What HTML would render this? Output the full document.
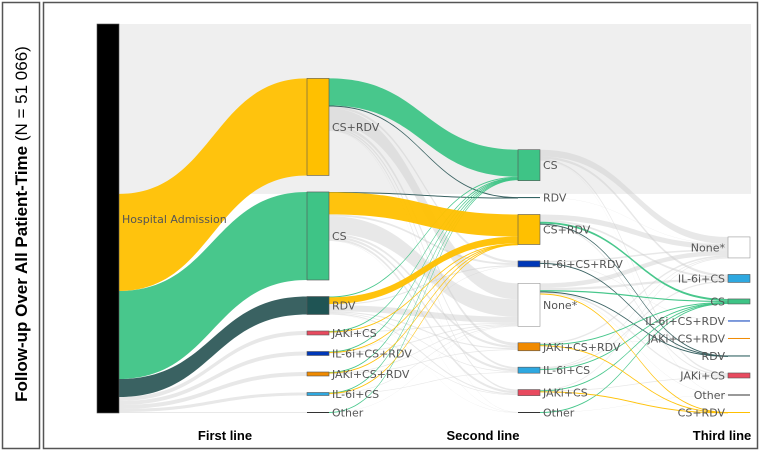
<!DOCTYPE html>
<html><head><meta charset="utf-8"><style>
html,body{margin:0;padding:0;background:#fff;}
svg{display:block;font-family:"DejaVu Sans","Liberation Sans",sans-serif;}
</style></head><body>
<svg id="chart" width="760" height="451" viewBox="0 0 760 451">
<rect x="2.5" y="2.5" width="37" height="446" fill="none" stroke="#555" stroke-width="1.5"/>
<rect x="43.5" y="2.5" width="714" height="446" fill="none" stroke="#555" stroke-width="1.5"/>
<text transform="translate(27,224) rotate(-90)" text-anchor="middle" font-family="Liberation Sans, sans-serif" font-size="17" fill="#000"><tspan font-weight="bold">Follow-up Over All Patient-Time</tspan> (N = 51 066)</text>
<g id="bg"></g>
<g id="links"></g>
<g id="nodes"></g>
<g id="labels"></g>
<text x="225" y="440" text-anchor="middle" font-family="Liberation Sans, sans-serif" font-weight="bold" font-size="13">First line</text>
<text x="483" y="440" text-anchor="middle" font-family="Liberation Sans, sans-serif" font-weight="bold" font-size="13">Second line</text>
<text x="722" y="440" text-anchor="middle" font-family="Liberation Sans, sans-serif" font-weight="bold" font-size="13">Third line</text>
</svg>
<script>
const TOTAL = 51066;
const col1Names = ["CS+RDV","CS","RDV","JAKi+CS","IL-6i+CS+RDV","JAKi+CS+RDV","IL-6i+CS","Other"];
const col1Values = [12740,11560,2360,525,525,525,395,130];
const col2Names = ["CS","RDV","CS+RDV","IL-6i+CS+RDV","None*","JAKi+CS+RDV","IL-6i+CS","JAKi+CS","Other"];
const col2Values = [4070,130,3940,790,5650,1050,790,790,130];
const col3Names = ["None*","IL-6i+CS","CS","IL-6i+CS+RDV","JAKi+CS+RDV","RDV","JAKi+CS","Other","CS+RDV"];
const col3Values = [2760,1050,660,130,130,80,660,130,80];
const links01 = [["CS+RDV",12740,"y"],["CS",11560,"g"],["RDV",2360,"d"],["JAKi+CS",525,"x"],["IL-6i+CS+RDV",525,"x"],["JAKi+CS+RDV",525,"x"],["IL-6i+CS",395,"x"],["Other",130,"x"]];
const links12 = [
["CS+RDV","CS",3550,"g"],["CS+RDV","RDV",60,"d"],["CS+RDV","IL-6i+CS+RDV",300,"x"],["CS+RDV","None*",2100,"x"],["CS+RDV","JAKi+CS+RDV",400,"x"],["CS+RDV","IL-6i+CS",250,"x"],["CS+RDV","JAKi+CS",200,"x"],["CS+RDV","Other",40,"x"],
["CS","RDV",40,"d"],["CS","CS+RDV",2900,"y"],["CS","IL-6i+CS+RDV",250,"x"],["CS","None*",2300,"x"],["CS","JAKi+CS+RDV",300,"x"],["CS","IL-6i+CS",300,"x"],["CS","JAKi+CS",300,"x"],["CS","Other",40,"x"],
["RDV","CS",100,"g"],["RDV","CS+RDV",900,"y"],["RDV","IL-6i+CS+RDV",150,"x"],["RDV","None*",800,"x"],["RDV","JAKi+CS+RDV",150,"x"],["RDV","IL-6i+CS",100,"x"],["RDV","JAKi+CS",150,"x"],["RDV","Other",30,"x"],
["JAKi+CS","CS",60,"g"],["JAKi+CS","CS+RDV",40,"y"],["JAKi+CS","None*",120,"x"],["JAKi+CS","JAKi+CS",80,"x"],
["IL-6i+CS+RDV","CS",60,"g"],["IL-6i+CS+RDV","CS+RDV",30,"y"],["IL-6i+CS+RDV","None*",120,"x"],["IL-6i+CS+RDV","IL-6i+CS+RDV",60,"x"],
["JAKi+CS+RDV","CS",60,"g"],["JAKi+CS+RDV","CS+RDV",40,"y"],["JAKi+CS+RDV","None*",100,"x"],["JAKi+CS+RDV","JAKi+CS+RDV",100,"x"],
["IL-6i+CS","CS",50,"g"],["IL-6i+CS","CS+RDV",30,"y"],["IL-6i+CS","None*",80,"x"],["IL-6i+CS","IL-6i+CS",80,"x"],
["Other","CS",30,"g"],["Other","None*",30,"x"]];
const links23 = [
["CS","None*",900,"x"],["CS","IL-6i+CS",300,"x"],["CS","JAKi+CS",200,"x"],["CS","Other",40,"x"],
["RDV","None*",30,"x"],
["CS+RDV","None*",700,"x"],["CS+RDV","IL-6i+CS",250,"x"],["CS+RDV","CS",250,"g"],["CS+RDV","RDV",30,"d"],["CS+RDV","JAKi+CS",150,"x"],
["IL-6i+CS+RDV","None*",200,"x"],["IL-6i+CS+RDV","RDV",20,"d"],["IL-6i+CS+RDV","IL-6i+CS+RDV",60,"x"],
["None*","None*",600,"x"],["None*","IL-6i+CS",300,"x"],["None*","CS",150,"g"],["None*","RDV",30,"d"],["None*","JAKi+CS",200,"x"],["None*","CS+RDV",20,"y"],["None*","Other",50,"x"],
["JAKi+CS+RDV","None*",200,"x"],["JAKi+CS+RDV","CS",60,"g"],["JAKi+CS+RDV","JAKi+CS+RDV",60,"x"],["JAKi+CS+RDV","CS+RDV",20,"y"],
["IL-6i+CS","None*",100,"x"],["IL-6i+CS","IL-6i+CS",150,"x"],["IL-6i+CS","CS",40,"g"],
["JAKi+CS","None*",100,"x"],["JAKi+CS","JAKi+CS",100,"x"],["JAKi+CS","CS",40,"g"],["JAKi+CS","CS+RDV",20,"y"],
["Other","CS",30,"g"],["Other","Other",30,"x"]];

const NS="http://www.w3.org/2000/svg";
const TOP=24, BOTTOM=413, S=(BOTTOM-TOP)/TOTAL;
const colX=[97,307,518,728], NW=22, gaps=[16.5,16.4,16.5];
const nodeColor={"CS+RDV":"#FFC000","CS":"#3EC486","RDV":"#1F5454","JAKi+CS":"#E84A5F","IL-6i+CS+RDV":"#0038B8","JAKi+CS+RDV":"#F08A00","IL-6i+CS":"#2EA8E0","Other":"#333","None*":"#fff"};
const linkColor={g:"#3EC486",y:"#FFC000",d:"#2F5A5A",x:"rgba(205,205,205,0.45)"};
function el(tag,attrs,parent){const e=document.createElementNS(NS,tag);for(const k in attrs)e.setAttribute(k,attrs[k]);parent.appendChild(e);return e;}
function slug(s){return s.toLowerCase().replace(/\*/g,'-none').replace(/\+/g,'-').replace(/[^a-z0-9-]/g,'').replace(/-+/g,'-');}

const cols=[[{name:"Hospital Admission",value:TOTAL}],[],[],[]];
[[col1Names,col1Values],[col2Names,col2Values],[col3Names,col3Values]].forEach(([ns,vs],i)=>{
  ns.forEach((n,j)=>cols[i+1].push({name:n,value:vs[j]}));
});
cols.forEach((c,ci)=>{
  if(ci===0){c[0].y0=TOP;c[0].h=TOTAL*S;}
  else{let b=BOTTOM;for(let j=c.length-1;j>=0;j--){const h=Math.max(1,c[j].value*S);c[j].h=h;c[j].y0=b-h;b=c[j].y0-gaps[ci-1];}}
  c.forEach(n=>{n.x=colX[ci];n.out=[];n.inn=[];n.col=ci;});
});
function find(ci,name){return cols[ci].find(n=>n.name===name);}
const allLinks=[];
links01.forEach(l=>allLinks.push({s:cols[0][0],t:find(1,l[0]),v:l[1],c:l[2]}));
links12.forEach(l=>allLinks.push({s:find(1,l[0]),t:find(2,l[1]),v:l[2],c:l[3]}));
links23.forEach(l=>allLinks.push({s:find(2,l[0]),t:find(3,l[1]),v:l[2],c:l[3]}));
allLinks.forEach(l=>{l.s.out.push(l);l.t.inn.push(l);});
cols.flat().forEach(n=>{
  let off=n.y0;
  if(n.col===0){const sum=n.out.reduce((a,l)=>a+l.v,0);off+= (TOTAL-sum)*S;}
  n.out.sort((a,b)=>a.t.y0-b.t.y0).forEach(l=>{l.sy=off;off+=l.v*S;});
  let off2=n.y0;
  n.inn.sort((a,b)=>a.s.y0-b.s.y0).forEach(l=>{l.ty=off2;off2+=l.v*S;});
});
const hosp=cols[0][0];
const censored=TOTAL-hosp.out.reduce((a,l)=>a+l.v,0);
const band=el('rect',{x:NW+hosp.x,y:TOP,width:751-(hosp.x+NW),height:censored*S,fill:"#EFEFEF"},document.getElementById('bg'));



const lg=document.getElementById('links');
const order=["x","d","g","y"];
allLinks.slice().sort((a,b)=>order.indexOf(a.c)-order.indexOf(b.c)).forEach(l=>{
  const x1=l.s.x+NW,x0=l.t.x,xm=(x1+x0)/2;let t=l.v*S;
  if(l.c!=="x")t=Math.max(t,1);
  const d=`M${x1},${l.sy}C${xm},${l.sy} ${xm},${l.ty} ${x0},${l.ty}L${x0},${l.ty+t}C${xm},${l.ty+t} ${xm},${l.sy+t} ${x1},${l.sy+t}Z`;
  const p=el('path',{d:d,fill:linkColor[l.c],opacity:l.c==="x"?1:0.95},lg);
  
  
});
const ng=document.getElementById('nodes'),tg=document.getElementById('labels');
cols.forEach((c,ci)=>c.forEach(n=>{
  const fill=ci===0?"#000":nodeColor[n.name];
  const r=el('rect',{x:n.x,y:n.y0,width:NW,height:n.h,fill:fill,stroke:n.name==="None*"?"#999":(n.h>3?"#555":"none"),"stroke-width":0.6},ng);
  
  
  let tx,anchor;
  if(ci<3){tx=n.x+NW+3;anchor="start";}
  else{tx=n.x-3;anchor="end";}
  const ty=ci===0?219:n.y0+n.h/2;
  const t=el('text',{x:tx,y:ty+4,"text-anchor":anchor,"font-size":11,fill:"#555"},tg);
  t.textContent=n.name;
  
  
}));
</script>
</body></html>
